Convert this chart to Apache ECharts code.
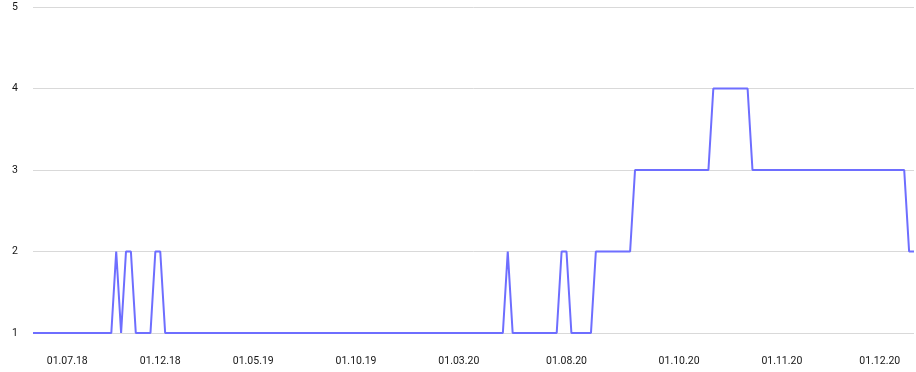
<!DOCTYPE html>
<html>
<head>
<meta charset="utf-8">
<script src="https://cdn.jsdelivr.net/npm/echarts@6/dist/echarts.min.js"></script>
<style>
  html, body { margin: 0; padding: 0; background: #ffffff; }
  #chart { width: 916px; height: 372px; }
</style>
</head>
<body>
<div id="chart"></div>
<script>
// Series values, one per observation (category index 0..180)
const values = [
  1,1,1,1,1,1,1,1,1,1,
  1,1,1,1,1,1,1,2,1,2,
  2,1,1,1,1,2,2,1,1,1,
  1,1,1,1,1,1,1,1,1,1,
  1,1,1,1,1,1,1,1,1,1,
  1,1,1,1,1,1,1,1,1,1,
  1,1,1,1,1,1,1,1,1,1,
  1,1,1,1,1,1,1,1,1,1,
  1,1,1,1,1,1,1,1,1,1,
  1,1,1,1,1,1,1,2,1,1,
  1,1,1,1,1,1,1,1,2,2,
  1,1,1,1,1,2,2,2,2,2,
  2,2,2,3,3,3,3,3,3,3,
  3,3,3,3,3,3,3,3,3,4,
  4,4,4,4,4,4,4,3,3,3,
  3,3,3,3,3,3,3,3,3,3,
  3,3,3,3,3,3,3,3,3,3,
  3,3,3,3,3,3,3,3,3,2,
  2
];

// Date tick labels and the observation index each one sits on
const tickLabels = ['01.07.18','01.12.18','01.05.19','01.10.19','01.03.20','01.08.20','01.10.20','01.11.20','01.12.20'];
const tickIndex  = [7, 26, 45, 66, 87, 109, 132, 153, 173];

// Y axis ticks
const yMin = 1, yMax = 5, yStep = 1;

const categories = values.map((_, i) => String(i));

const chart = echarts.init(document.getElementById('chart'), null, { renderer: 'canvas' });
chart.setOption({
  animation: false,
  backgroundColor: '#ffffff',
  grid: { left: 33, right: 2, top: 7, bottom: 39, containLabel: false },
  textStyle: { fontFamily: 'Roboto, sans-serif' },
  xAxis: {
    type: 'category',
    data: categories,
    boundaryGap: false,
    axisLine: { show: false },
    axisTick: { show: false },
    splitLine: { show: false },
    axisLabel: {
      interval: (idx) => tickIndex.indexOf(idx) !== -1,
      formatter: (val, idx) => {
        const k = tickIndex.indexOf(Number(val));
        return k === -1 ? '' : tickLabels[k];
      },
      color: '#151515',
      fontSize: 10.5,
      fontFamily: 'Roboto, sans-serif',
      margin: 23
    }
  },
  yAxis: {
    type: 'value',
    min: yMin,
    max: yMax,
    interval: yStep,
    axisLine: { show: false },
    axisTick: { show: false },
    splitLine: { show: true, lineStyle: { color: '#d9d9d9', width: 1 } },
    axisLabel: {
      color: '#151515',
      fontSize: 10.5,
      fontFamily: 'Roboto, sans-serif',
      margin: 15
    }
  },
  series: [{
    type: 'line',
    data: values,
    showSymbol: false,
    symbol: 'none',
    lineStyle: { color: '#6e6eff', width: 2 },
    itemStyle: { color: '#6e6eff' }
  }]
});
</script>
</body>
</html>
